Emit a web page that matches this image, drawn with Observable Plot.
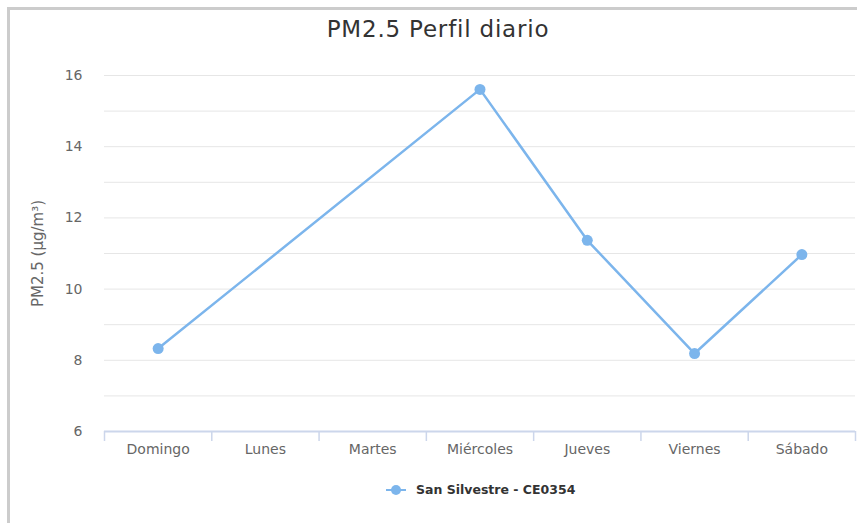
<!DOCTYPE html>
<html>
<head>
<meta charset="utf-8">
<script src="https://cdn.jsdelivr.net/npm/d3@7"></script>
<script src="https://cdn.jsdelivr.net/npm/@observablehq/plot@0.6"></script>
<style>
  html, body { margin: 0; padding: 0; background: #fff; }
  #wrap { position: relative; width: 858px; height: 523px; overflow: hidden; font-family: "DejaVu Sans", sans-serif; }
  #frame { position: absolute; left: 7px; top: 7px; width: 850px; height: 530px; border-left: 3px solid #cccccc; border-top: 3px solid #cccccc; box-sizing: border-box; }
  #title { position: absolute; left: 0; width: 876px; top: 16px; text-align: center; font-size: 23px; color: #333; letter-spacing: 0.8px; }
  #chart { position: absolute; left: 0; top: 0; }
  #legend { position: absolute; top: 482px; left: 386px; display: flex; align-items: center; font-size: 12.5px; font-weight: bold; color: #333; }
  #legend svg { margin-right: 10px; }
</style>
</head>
<body>
<div id="wrap">
  <div id="chart"></div>
  <div id="frame"></div>
  <div id="title">PM2.5 Perfil diario</div>
  <div id="legend"></div>
</div>
<script>
const categories = ["Domingo", "Lunes", "Martes", "Miércoles", "Jueves", "Viernes", "Sábado"];
const values = [8.33, null, null, 15.61, 11.37, 8.19, 10.97];
const seriesName = "San Silvestre - CE0354";
const yTicks = [6, 8, 10, 12, 14, 16];
const yGrid = [7, 8, 9, 10, 11, 12, 13, 14, 15, 16];
const yTitle = "PM2.5 (µg/m³)";
const color = "#7cb5ec";

const data = categories.map((c, i) => ({i, c, v: values[i]})).filter(d => d.v != null);
const boundaries = d3.range(categories.length + 1).map(i => i - 0.5);

const chart = Plot.plot({
  width: 858,
  height: 523,
  marginLeft: 104,
  marginRight: 3,
  marginTop: 75,
  marginBottom: 92,
  style: {fontFamily: "DejaVu Sans, sans-serif", background: "transparent"},
  x: {type: "linear", domain: [-0.5, categories.length - 0.5]},
  y: {domain: [6, 16]},
  marks: [
    Plot.ruleY(yGrid, {stroke: "#e6e6e6", strokeWidth: 1}),
    Plot.ruleY([6], {stroke: "#ccd6eb", strokeWidth: 2}),
    Plot.axisX({ticks: boundaries, tickSize: 10, tickFormat: () => "", stroke: "#ccd6eb", strokeWidth: 1.5, strokeOpacity: 1, label: null}),
    Plot.axisX({ticks: d3.range(categories.length), tickSize: 0, tickPadding: 13, tickFormat: i => categories[i], fontSize: 14, fill: "#666", label: null}),
    Plot.axisY({ticks: yTicks, tickSize: 0, tickPadding: 22, fontSize: 14, fill: "#666", label: yTitle, labelAnchor: "center", labelArrow: "none", labelOffset: 72}),
    Plot.line(data, {x: "i", y: "v", stroke: color, strokeWidth: 2.5}),
    Plot.dot(data, {x: "i", y: "v", r: 5.5, fill: color, stroke: "none"})
  ]
});
document.getElementById("chart").appendChild(chart);
// y-axis title styling
chart.querySelectorAll("[aria-label='y-axis label'] text").forEach(t => { t.setAttribute("font-size", 15); t.setAttribute("fill", "#666"); });

const leg = document.getElementById("legend");
leg.innerHTML = `<svg width="20" height="12"><line x1="0" x2="20" y1="6" y2="6" stroke="${color}" stroke-width="2"/><circle cx="10" cy="6" r="5" fill="${color}"/></svg><span></span>`;
leg.querySelector("span").textContent = seriesName;
</script>
</body>
</html>
